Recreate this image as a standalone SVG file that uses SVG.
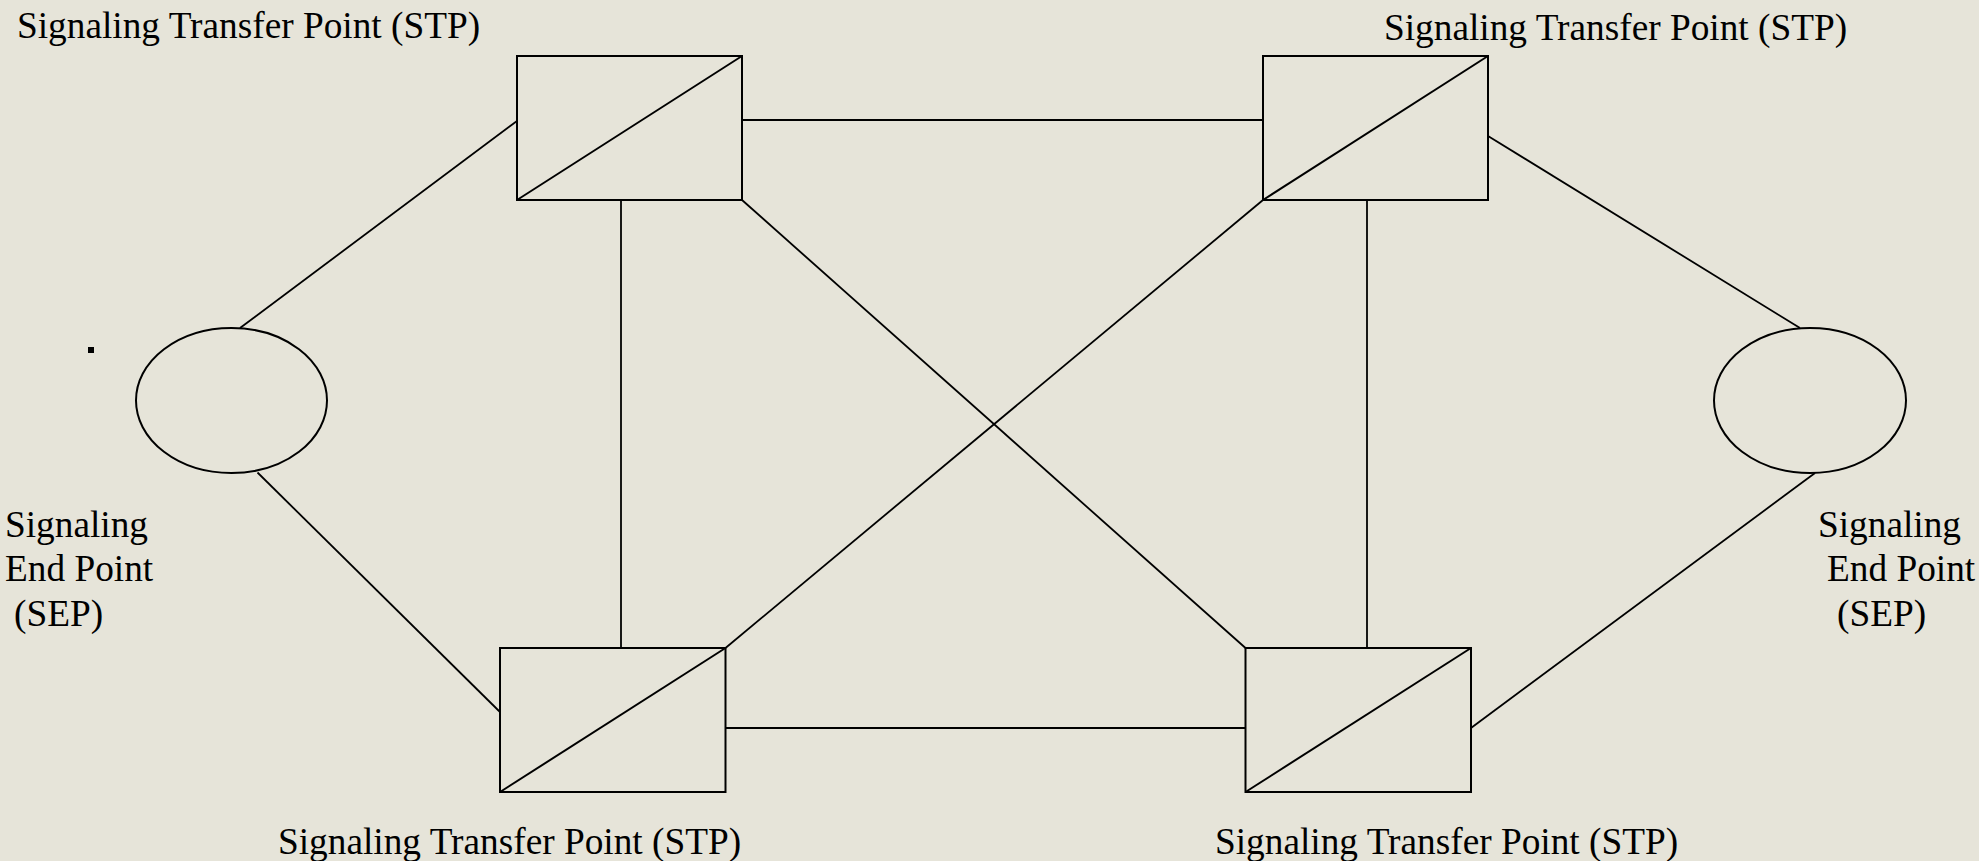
<svg xmlns="http://www.w3.org/2000/svg" width="1979" height="861" viewBox="0 0 1979 861">
<style>
.bg{fill:#E6E4D9}
.n{fill:none;stroke:#000;stroke-width:2}
.c line{stroke:#000;stroke-width:1.8}
text{font-family:"Liberation Serif","Times New Roman",serif;font-size:37.3px;fill:#000}
</style>
<rect class="bg" x="0" y="0" width="1979" height="861"/>
<g id="connectors" class="c">
<line x1="742" y1="120" x2="1263" y2="120"/>
<line x1="725.5" y1="728" x2="1245.5" y2="728"/>
<line x1="621" y1="200" x2="621" y2="648"/>
<line x1="1367" y1="200" x2="1367" y2="648"/>
<line x1="742" y1="200" x2="1245.5" y2="648"/>
<line x1="725.5" y1="648" x2="1263" y2="200"/>
<line x1="517" y1="121" x2="240" y2="328"/>
<line x1="257.5" y1="472.5" x2="500" y2="712"/>
<line x1="1488" y1="136" x2="1800" y2="328"/>
<line x1="1471" y1="728" x2="1815" y2="473"/>
</g>
<g id="stp-top-left">
<rect class="n" x="517" y="56" width="225" height="144"/>
<line class="n" x1="517" y1="200" x2="742" y2="56"/>
<text x="17" y="37.5">Signaling Transfer Point (STP)</text>
</g>
<g id="stp-top-right">
<rect class="n" x="1263" y="56" width="225" height="144"/>
<line class="n" x1="1263" y1="200" x2="1488" y2="56"/>
<text x="1384" y="40">Signaling Transfer Point (STP)</text>
</g>
<g id="stp-bottom-left">
<rect class="n" x="500" y="648" width="225.5" height="144"/>
<line class="n" x1="500" y1="792" x2="725.5" y2="648"/>
<text x="278" y="854">Signaling Transfer Point (STP)</text>
</g>
<g id="stp-bottom-right">
<rect class="n" x="1245.5" y="648" width="225.5" height="144"/>
<line class="n" x1="1245.5" y1="792" x2="1471" y2="648"/>
<text x="1215" y="854">Signaling Transfer Point (STP)</text>
</g>
<g id="sep-left">
<ellipse class="n" cx="231.5" cy="400.5" rx="95.5" ry="72.5"/>
<text x="5" y="537">Signaling</text>
<text x="5" y="581">End Point</text>
<text x="14" y="626">(SEP)</text>
</g>
<g id="sep-right">
<ellipse class="n" cx="1810" cy="400.5" rx="96" ry="72.5"/>
<text x="1818" y="537">Signaling</text>
<text x="1827" y="581">End Point</text>
<text x="1837" y="626">(SEP)</text>
</g>
<rect x="88" y="347" width="6" height="6" fill="#000"/>
</svg>
